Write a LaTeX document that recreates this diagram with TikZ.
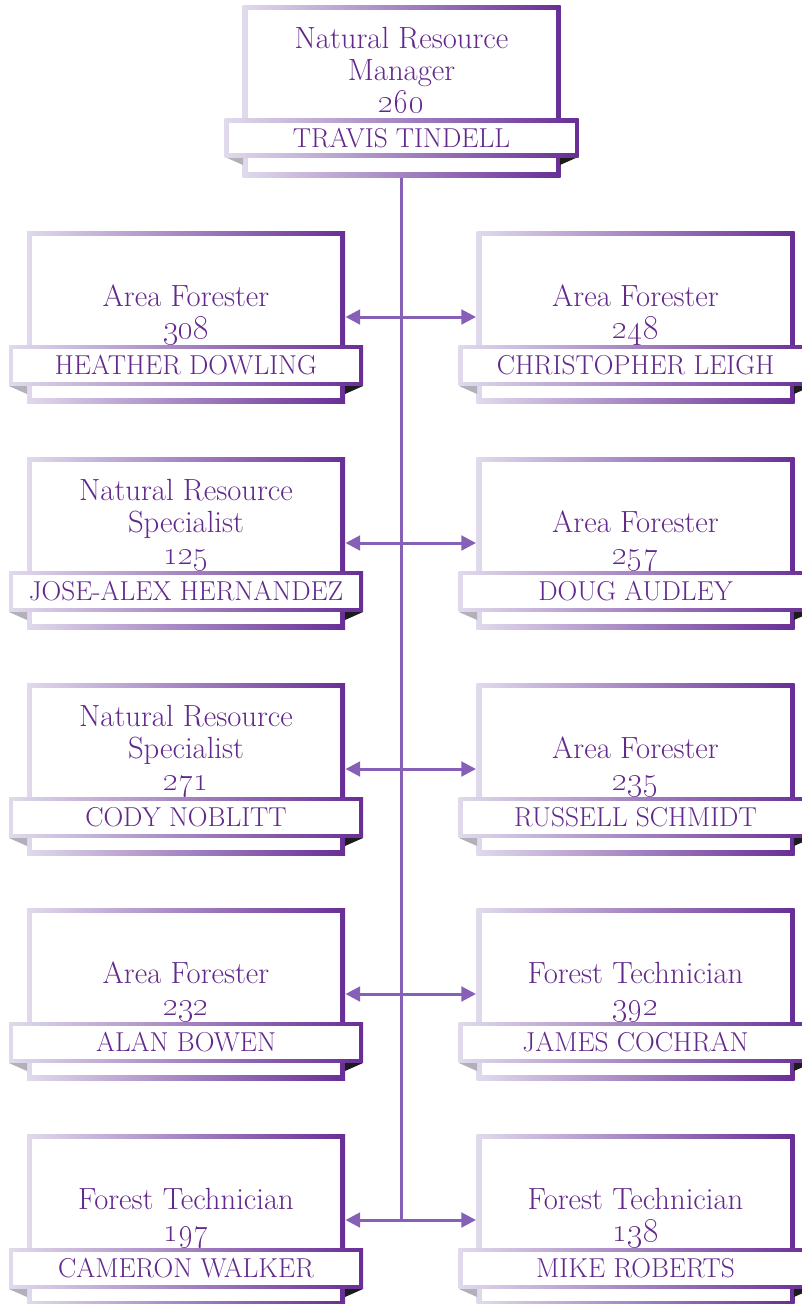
\documentclass[tikz,border=0pt]{standalone}
\usetikzlibrary{arrows.meta}
\definecolor{lavl}{RGB}{224,218,236}
\definecolor{purd}{RGB}{104,46,150}
\definecolor{txtp}{RGB}{98,40,140}
\definecolor{connp}{RGB}{134,96,182}
\definecolor{foldl}{RGB}{178,176,184}
\definecolor{foldd}{RGB}{28,28,30}
\tikzset{every picture/.style={line width=0.75pt}}
\tikzset{
  frame/.style={rectangle, inner sep=0pt, minimum width=238.5pt, minimum height=129pt,
    left color=lavl, right color=purd,
    path picture={\fill[white] ([shift={(3.75pt,-3.75pt)}]path picture bounding box.north west)
      rectangle ([shift={(-3.75pt,3.75pt)}]path picture bounding box.south east);}},
  banner/.style={rectangle, inner sep=0pt, minimum width=265.5pt, minimum height=30.5pt,
    left color=lavl, right color=purd, text=txtp, font=\fontsize{20.5}{24}\selectfont,
    path picture={\fill[white] ([shift={(3pt,-3pt)}]path picture bounding box.north west)
      rectangle ([shift={(-3pt,3pt)}]path picture bounding box.south east);}},
  title/.style={inner sep=0pt, align=center, text depth=0pt, anchor=south, text=txtp,
    font=\fontsize{23}{24}\selectfont},
  conn/.style={draw=connp, line width=2.25pt, {Triangle[length=11pt,width=11pt]}-{Triangle[length=11pt,width=11pt]}},
  trunk/.style={draw=connp, line width=2.25pt}
}
\begin{document}
\begin{tikzpicture}[x=0.75pt,y=0.75pt,yscale=-1,xscale=1]
\useasboundingbox (0,0) rectangle (801,1304);

%Shape: Frame [id:mgr] 
\node[frame] (mgr) at (401.5,91) {};
\fill[foldl] (225,157) -- (243,157) -- (243,165) -- cycle;
\fill[foldd] (560,157) -- (578,157) -- (560,165) -- cycle;
\node[banner, minimum height=29pt] (mgrn) at (401.5,138) {TRAVIS TINDELL};
\node[title] (mgrt) at (401.5,113) {Natural Resource\\Manager\\\oldstylenums{260}};

%Shape: Frame [id:lf1] 
\node[frame] (lf1) at (186,317) {};
\fill[foldl] (9,386) -- (27,386) -- (27,394) -- cycle;
\fill[foldd] (345,386) -- (363,386) -- (345,394) -- cycle;
\node[banner] (ln1) at (186,365.5) {HEATHER DOWLING};
\node[title] (lt1) at (186,339) {Area Forester\\\oldstylenums{308}};
%Shape: Frame [id:rf1] 
\node[frame] (rf1) at (635.5,317) {};
\fill[foldl] (459,386) -- (477,386) -- (477,394) -- cycle;
\fill[foldd] (794,386) -- (812,386) -- (794,394) -- cycle;
\node[banner] (rn1) at (635.5,365.5) {CHRISTOPHER LEIGH};
\node[title] (rt1) at (635.5,339) {Area Forester\\\oldstylenums{248}};

%Shape: Frame [id:lf2] 
\node[frame] (lf2) at (186,543) {};
\fill[foldl] (9,612) -- (27,612) -- (27,620) -- cycle;
\fill[foldd] (345,612) -- (363,612) -- (345,620) -- cycle;
\node[banner] (ln2) at (186,591.5) {JOSE-ALEX HERNANDEZ};
\node[title] (lt2) at (186,565) {Natural Resource\\Specialist\\\oldstylenums{125}};
%Shape: Frame [id:rf2] 
\node[frame] (rf2) at (635.5,543) {};
\fill[foldl] (459,612) -- (477,612) -- (477,620) -- cycle;
\fill[foldd] (794,612) -- (812,612) -- (794,620) -- cycle;
\node[banner] (rn2) at (635.5,591.5) {DOUG AUDLEY};
\node[title] (rt2) at (635.5,565) {Area Forester\\\oldstylenums{257}};

%Shape: Frame [id:lf3] 
\node[frame] (lf3) at (186,769) {};
\fill[foldl] (9,838) -- (27,838) -- (27,846) -- cycle;
\fill[foldd] (345,838) -- (363,838) -- (345,846) -- cycle;
\node[banner] (ln3) at (186,817.5) {CODY NOBLITT};
\node[title] (lt3) at (186,791) {Natural Resource\\Specialist\\\oldstylenums{271}};
%Shape: Frame [id:rf3] 
\node[frame] (rf3) at (635.5,769) {};
\fill[foldl] (459,838) -- (477,838) -- (477,846) -- cycle;
\fill[foldd] (794,838) -- (812,838) -- (794,846) -- cycle;
\node[banner] (rn3) at (635.5,817.5) {RUSSELL SCHMIDT};
\node[title] (rt3) at (635.5,791) {Area Forester\\\oldstylenums{235}};

%Shape: Frame [id:lf4] 
\node[frame] (lf4) at (186,994) {};
\fill[foldl] (9,1063) -- (27,1063) -- (27,1071) -- cycle;
\fill[foldd] (345,1063) -- (363,1063) -- (345,1071) -- cycle;
\node[banner] (ln4) at (186,1042.5) {ALAN BOWEN};
\node[title] (lt4) at (186,1016) {Area Forester\\\oldstylenums{232}};
%Shape: Frame [id:rf4] 
\node[frame] (rf4) at (635.5,994) {};
\fill[foldl] (459,1063) -- (477,1063) -- (477,1071) -- cycle;
\fill[foldd] (794,1063) -- (812,1063) -- (794,1071) -- cycle;
\node[banner] (rn4) at (635.5,1042.5) {JAMES COCHRAN};
\node[title] (rt4) at (635.5,1016) {Forest Technician\\\oldstylenums{392}};

%Shape: Frame [id:lf5] 
\node[frame] (lf5) at (186,1220) {};
\fill[foldl] (9,1289) -- (27,1289) -- (27,1297) -- cycle;
\fill[foldd] (345,1289) -- (363,1289) -- (345,1297) -- cycle;
\node[banner] (ln5) at (186,1268.5) {CAMERON WALKER};
\node[title] (lt5) at (186,1242) {Forest Technician\\\oldstylenums{197}};
%Shape: Frame [id:rf5] 
\node[frame] (rf5) at (635.5,1220) {};
\fill[foldl] (459,1289) -- (477,1289) -- (477,1297) -- cycle;
\fill[foldd] (794,1289) -- (812,1289) -- (794,1297) -- cycle;
\node[banner] (rn5) at (635.5,1268.5) {MIKE ROBERTS};
\node[title] (rt5) at (635.5,1242) {Forest Technician\\\oldstylenums{138}};

%Connectors
\draw[trunk] (mgr.south) -- (mgr.south |- lf5.east);
\draw[conn] (lf1.east) -- (rf1.west);
\draw[conn] (lf2.east) -- (rf2.west);
\draw[conn] (lf3.east) -- (rf3.west);
\draw[conn] (lf4.east) -- (rf4.west);
\draw[conn] (lf5.east) -- (rf5.west);
\end{tikzpicture}
\end{document}
